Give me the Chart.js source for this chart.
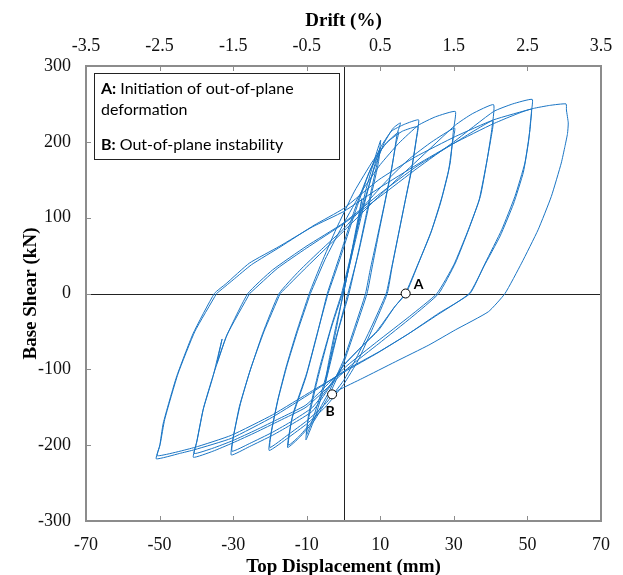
<!DOCTYPE html>
<html>
<head>
<meta charset="utf-8">
<script src="https://cdn.jsdelivr.net/npm/chart.js@4.4.1/dist/chart.umd.min.js"></script>
<style>
  html, body { margin: 0; padding: 0; background: #fff; }
</style>
</head>
<body>
<canvas id="chart" width="623" height="575"></canvas>
<script>
// axis ticks
const dispTicks = [-70, -50, -30, -10, 10, 30, 50, 70];
const driftTicks = [-3.5, -2.5, -1.5, -0.5, 0.5, 1.5, 2.5, 3.5];
const shearTicks = [-300, -200, -100, 0, 100, 200, 300];

// hysteresis loops, [displacement mm, base shear kN]
const loop5 = [[0,0],[2.5,62],[5,125],[4.2,100],[2,45],[0,2],[-2.5,-60],[-5,-120],[-4.2,-95],[-2,-42],[0,0]];

const loop10 = [[0,0],[3,72],[6,135],[8.5,178],[10.1,202],[9.6,182],[7.5,135],[4.5,65],[1.5,0],[-1.5,-50],[-4.5,-110],
  [-7.5,-160],[-10.2,-193],[-9.8,-172],[-7,-112],[-3.5,-48],[-0.3,0],[2.5,55],[5.5,115],[8.5,170],[10,192],[9.4,170],
  [7,118],[4,52],[1.2,0],[-2,-58],[-5.5,-122],[-8.5,-168],[-10,-186],[-9.5,-160],[-6.5,-98],[-3,-38],[-0.5,0]];

const loop15 = [[-0.5,0],[2,50],[5,110],[8,160],[11,198],[13.5,218],[15.5,225],[14.6,211],[13.2,167],[11.4,123],[9.6,80],
  [7.8,35],[6.4,0],[3,-50],[0,-92],[-4,-135],[-8,-168],[-12,-190],[-15.2,-203],[-14,-165],[-10.2,-110],[-7.1,-53],
  [-4.4,0],[-1,50],[3,110],[7,160],[11,195],[15,213],[14.3,198],[12.8,158],[11,115],[9,70],[7.2,30],[6,0],[3,-45],
  [0,-88],[-4,-130],[-8,-165],[-12,-188],[-15,-200],[-13.8,-160],[-10,-105],[-7,-50],[-4.2,0]];

const loop20 = [[-4.2,0],[-1,45],[3,105],[7,160],[10,192],[13,214],[16.5,223],[20.4,229],[20,211],[18.6,167],[16.8,123],
  [15,79],[13.2,35],[11.9,0],[8,-45],[4,-88],[0,-120],[-5,-150],[-10,-172],[-15,-190],[-20.2,-207],[-19.7,-184],
  [-17.9,-141],[-15.6,-97],[-12.9,-53],[-9.3,0],[-6,40],[-2,85],[3,135],[8,175],[12,200],[16,214],[20.2,220],
  [19.8,203],[18.4,160],[16.6,118],[14.8,75],[13,32],[11.6,0],[7.5,-45],[3.5,-85],[0,-115],[-5,-146],[-10,-168],
  [-15,-186],[-20,-203],[-19.5,-180],[-17.7,-138],[-15.3,-94],[-12.5,-50],[-9,0]];

const loop30 = [[-9,0],[-5,45],[0,92],[5,135],[10,170],[15,198],[20.4,222],[25,233],[30.4,240],[29.9,216],[29,172],
  [26.8,128],[24,84],[20.4,40],[17,0],[14,-17],[9.6,-48],[5,-70],[0,-95],[-4,-125],[-8.4,-155],[-13.9,-172],
  [-19.3,-187],[-25.6,-202],[-30.5,-213],[-30.1,-193],[-28.3,-149],[-25.6,-105],[-22,-53],[-17.5,0],[-12,30],[-6,58],
  [0,85],[6,118],[12,150],[18,178],[24,200],[30.2,218],[29.6,198],[28.5,160],[26.3,118],[23.6,78],[20,36],[16.8,0],
  [13.5,-20],[9,-50],[4.5,-72],[0,-95],[-4,-123],[-8.4,-150],[-13.9,-168],[-19.3,-183],[-25.6,-198],[-30.3,-208],
  [-29.9,-188],[-28,-145],[-25.3,-100],[-21.6,-50],[-17.2,0]];

const loop40 = [[-17.2,0],[-10,35],[0,82],[10,130],[20,175],[30.4,222],[35,237],[40.8,249],[40.3,216],[38.9,172],
  [37.2,128],[34,84],[30.4,40],[25.9,0],[18.6,-31],[9.6,-66],[1.5,-97],[-3,-118],[-10.2,-150],[-17.5,-168],
  [-23.8,-183],[-30.1,-197],[-35.5,-208],[-40.8,-216],[-40,-198],[-38.2,-154],[-35.5,-110],[-33,-60],[-34.4,-92],
  [-31.9,-57],[-26,0],[-19.3,31],[-10.2,62],[0,93],[10,132],[20,168],[30,198],[40.6,228],[40.1,205],[38.6,165],
  [36.8,122],[33.6,80],[30,38],[25.4,0],[18,-30],[9,-64],[1,-95],[-3.5,-116],[-10.2,-147],[-17.5,-165],[-23.8,-180],
  [-30.1,-194],[-35.5,-204],[-40.6,-211],[-39.8,-194],[-38,-150],[-35.3,-106],[-31.6,-54],[-25.5,0]];

const loop50 = [[-25.5,0],[-18,33],[-10,60],[0,92],[10,128],[20,165],[30,200],[40.8,240],[46,250],[51.3,256],[51.1,240],
  [50.7,216],[49.3,172],[46.6,128],[43,84],[38.5,40],[34.4,0],[25.9,-26],[17.7,-53],[9.6,-77],[0.6,-101],[-8.4,-130],
  [-19.3,-163],[-30.5,-191],[-40.5,-206],[-44.6,-211],[-50.9,-218],[-50,-202],[-49,-171],[-45.4,-110],[-40.9,-53],
  [-35.1,0],[-31.9,13],[-25.6,40],[-17.5,62],[-8.4,88],[0,108],[10,140],[20,170],[30,198],[40.8,224],[51,243],
  [50.8,225],[50.3,200],[48.9,160],[46.2,118],[42.6,76],[38.2,36],[34.2,0],[25.6,-28],[17.4,-54],[9.4,-78],
  [0.4,-103],[-8.4,-128],[-19.3,-160],[-30.5,-187],[-40.5,-203],[-50.6,-214],[-49.8,-198],[-48.6,-166],[-45,-106],
  [-40.4,-50],[-34.5,0]];

const loop60 = [[-34.5,0],[-30,18],[-25,38],[-17,62],[-8,90],[0,112],[9.6,150],[19.5,180],[30.4,207],[40.8,229],
  [51.6,244],[56,248],[60.5,250],[60.6,242],[61.1,225],[60.9,211],[60.2,194],[59.2,172],[56.5,128],[52.9,84],
  [48.4,40],[43.9,0],[39.4,-24],[30.4,-48],[23.2,-68],[14.1,-90],[5.1,-112],[-1.2,-127],[-3,-133]];

// points A and B
const markerX = [16.9, -3.1];
const markerY = [0, -133];
const markerLabels = ['A', 'B'];

const noteLines = [['A:', ' Initiation of out-of-plane'], ['', 'deformation'], ['B:', ' Out-of-plane instability']];

const loops = [loop5, loop10, loop15, loop20, loop30, loop40, loop50, loop60];
const blue = '#1a75c4';
const serif = '"Liberation Serif", "Times New Roman", serif';
const sans = 'Lato, "Open Sans", sans-serif';

const loopSets = loops.map(l => ({
    data: l.map(p => ({ x: p[0], y: p[1] })),
    showLine: true,
    borderColor: blue,
    borderWidth: 1,
    pointRadius: 0,
    tension: 0.15
}));

const markerSet = {
    data: markerX.map((x, i) => ({ x: x, y: markerY[i] })),
    pointRadius: 4.5,
    pointBackgroundColor: '#fff',
    pointBorderColor: '#000',
    pointBorderWidth: 1,
    showLine: false
};

// frame, inner ticks, zero lines, note box and A/B labels
const framePlugin = {
    id: 'frame',
    beforeDatasetsDraw(chart) {
        const { ctx, chartArea: a, scales } = chart;
        const x0 = scales.x.getPixelForValue(0);
        const y0 = scales.y.getPixelForValue(0);
        ctx.save();
        ctx.strokeStyle = '#222';
        ctx.lineWidth = 1;
        ctx.beginPath();
        ctx.moveTo(Math.round(x0) + 0.5, a.top);
        ctx.lineTo(Math.round(x0) + 0.5, a.bottom);
        ctx.moveTo(a.left, Math.round(y0) + 0.5);
        ctx.lineTo(a.right, Math.round(y0) + 0.5);
        ctx.stroke();
        ctx.restore();
    },
    afterDraw(chart) {
        const { ctx, chartArea: a, scales } = chart;
        ctx.save();
        // inner ticks
        ctx.strokeStyle = '#8c8c8c';
        ctx.lineWidth = 1;
        ctx.beginPath();
        dispTicks.forEach(v => {
            const px = Math.round(scales.x.getPixelForValue(v)) + 0.5;
            ctx.moveTo(px, a.bottom); ctx.lineTo(px, a.bottom - 5);
        });
        driftTicks.forEach(v => {
            const px = Math.round(scales.x2.getPixelForValue(v)) + 0.5;
            ctx.moveTo(px, a.top); ctx.lineTo(px, a.top + 5);
        });
        shearTicks.forEach(v => {
            const py = Math.round(scales.y.getPixelForValue(v)) + 0.5;
            ctx.moveTo(a.left, py); ctx.lineTo(a.left + 5, py);
        });
        ctx.stroke();
        // border
        ctx.lineWidth = 2;
        ctx.strokeRect(a.left, a.top, a.right - a.left, a.bottom - a.top);

        // note box
        ctx.fillStyle = '#fff';
        ctx.fillRect(94, 73, 245, 86);
        ctx.strokeStyle = '#222';
        ctx.lineWidth = 1;
        ctx.strokeRect(94.5, 73.5, 245, 86);
        ctx.fillStyle = '#000';
        ctx.textBaseline = 'alphabetic';
        const baselines = [94, 115, 150];
        noteLines.forEach((ln, i) => {
            let x = 101;
            ctx.font = 'bold 16px ' + sans;
            ctx.fillText(ln[0], x, baselines[i]);
            x += ctx.measureText(ln[0]).width;
            ctx.font = '16px ' + sans;
            ctx.fillText(ln[1], x, baselines[i]);
        });

        // A / B labels
        ctx.font = 'bold 14px ' + sans;
        ctx.textAlign = 'center';
        ctx.textBaseline = 'middle';
        const offsets = [[13, -9], [-2, 17]];
        markerLabels.forEach((t, i) => {
            const px = scales.x.getPixelForValue(markerX[i]) + offsets[i][0];
            const py = scales.y.getPixelForValue(markerY[i]) + offsets[i][1];
            ctx.fillText(t, px, py);
        });
        ctx.restore();
    }
};

new Chart(document.getElementById('chart'), {
    type: 'scatter',
    data: { datasets: [markerSet].concat(loopSets) },
    plugins: [framePlugin],
    options: {
        responsive: false,
        animation: false,
        layout: { padding: { left: 0, right: 20, top: 0, bottom: 0 } },
        plugins: { legend: { display: false }, tooltip: { enabled: false } },
        scales: {
            x: {
                type: 'linear', position: 'bottom', min: -70, max: 70,
                afterBuildTicks: s => { s.ticks = dispTicks.map(v => ({ value: v })); },
                afterFit: s => { s.height = 54; },
                grid: { display: false, drawTicks: false },
                border: { display: false },
                ticks: { color: '#111', padding: 13, font: { family: serif, size: 18 } },
                title: { display: true, text: 'Top Displacement (mm)', color: '#000',
                         padding: { top: 0, bottom: 0 }, font: { family: serif, size: 19, weight: 'bold', lineHeight: 0.8 } }
            },
            x2: {
                type: 'linear', position: 'top', min: -3.5, max: 3.5,
                afterBuildTicks: s => { s.ticks = driftTicks.map(v => ({ value: v })); },
                afterFit: s => { s.height = 66; },
                grid: { display: false, drawTicks: false },
                border: { display: false },
                ticks: { color: '#111', padding: 9, font: { family: serif, size: 18 } },
                title: { display: true, text: 'Drift (%)', color: '#000',
                         padding: { top: 12, bottom: 0 }, font: { family: serif, size: 19, weight: 'bold', lineHeight: 1 } }
            },
            y: {
                type: 'linear', min: -300, max: 300,
                afterBuildTicks: s => { s.ticks = shearTicks.map(v => ({ value: v })); },
                afterFit: s => { s.width = 86; },
                grid: { display: false, drawTicks: false },
                border: { display: false },
                ticks: { color: '#111', padding: 15, font: { family: serif, size: 18 } },
                title: { display: true, text: 'Base Shear (kN)', color: '#000',
                         padding: { top: 22, bottom: 0 }, font: { family: serif, size: 19, weight: 'bold', lineHeight: 1 } }
            }
        }
    }
});
</script>
</body>
</html>
